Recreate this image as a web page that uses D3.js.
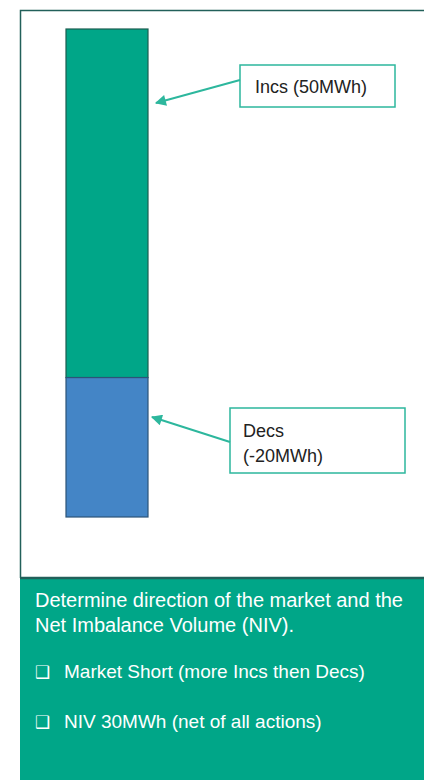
<!DOCTYPE html>
<html>
<head>
<meta charset="utf-8">
<script src="https://cdn.jsdelivr.net/npm/d3@7"></script>
<style>
  html, body { margin: 0; padding: 0; background: #fff; }
  svg { display: block; }
</style>
</head>
<body>
<svg id="chart"></svg>
<script>
// stacked bar segments
const segments = ['Incs', 'Decs'];
const values = [50, -20];
const labels = [['Incs (50MWh)'], ['Decs', '(-20MWh)']];
const notes = [
    'Determine direction of the market and the',
    'Net Imbalance Volume (NIV).'
];
const bullets = ['Market Short (more Incs then Decs)', 'NIV 30MWh (net of all actions)'];

const W = 424, H = 780;
const green = '#00a688', blue = '#4485c6', frame = '#22605a', arrowCol = '#2db79d';

function translate(x, y) {
    return `translate(${x},${y})`;
}

const svg = d3.select('#chart')
    .attr('width', W)
    .attr('height', H)
    .style('font-family', '"Liberation Sans", Arial, sans-serif');

const defs = svg.append('defs');
defs.append('marker')
    .attr('id', 'head')
    .attr('viewBox', '0 0 10 10')
    .attr('refX', 9)
    .attr('refY', 5)
    .attr('markerWidth', 7)
    .attr('markerHeight', 5.5)
    .attr('markerUnits', 'strokeWidth')
    .attr('orient', 'auto')
    .append('path')
    .attr('d', 'M0,0 L10,5 L0,10 z')
    .style('fill', arrowCol);

// outer frame
svg.append('path')
    .attr('d', `M${W + 2},10.5 H20.5 V578`)
    .style('fill', 'none')
    .style('stroke', frame)
    .style('stroke-width', 1.5);

// bar
let y = d3.scaleLinear()
    .domain([-20, 50])
    .range([517, 29]);
let x = d3.scaleBand()
    .domain(['NIV'])
    .range([66, 148]);

let stack = values.map((v, i) => ({ key: segments[i], y0: 0, y1: v }));

svg.append('g')
    .selectAll('rect')
    .data(stack)
    .enter()
    .append('rect')
    .attr('x', x('NIV'))
    .attr('width', x.bandwidth())
    .attr('y', d => y(Math.max(d.y0, d.y1)))
    .attr('height', d => Math.abs(y(d.y0) - y(d.y1)))
    .style('fill', (d, i) => [green, blue][i])
    .style('stroke', (d, i) => ['#1b5e50', '#2c5478'][i])
    .style('stroke-width', 1.2);

// callouts
let callouts = [
    { box: [240, 65, 155, 42], from: [240, 80], to: [156, 103], text: [255, 93] },
    { box: [230, 408, 175, 65], from: [230, 442], to: [152, 417], text: [243, 437] }
];

let cg = svg.append('g')
    .selectAll('g')
    .data(callouts)
    .enter()
    .append('g');

cg.append('rect')
    .attr('x', d => d.box[0])
    .attr('y', d => d.box[1])
    .attr('width', d => d.box[2])
    .attr('height', d => d.box[3])
    .style('fill', '#fff')
    .style('stroke', arrowCol)
    .style('stroke-width', 1.5);

cg.append('line')
    .attr('x1', d => d.from[0])
    .attr('y1', d => d.from[1])
    .attr('x2', d => d.to[0])
    .attr('y2', d => d.to[1])
    .style('stroke', arrowCol)
    .style('stroke-width', 2)
    .attr('marker-end', 'url(#head)');

cg.each(function(d, i) {
    d3.select(this).selectAll('text')
        .data(labels[i])
        .enter()
        .append('text')
        .attr('x', d.text[0])
        .attr('y', (t, j) => d.text[1] + j * 25)
        .style('font-size', '18px')
        .style('fill', '#222')
        .text(t => t);
});

// bottom note panel
let panel = svg.append('g').attr('transform', translate(20, 577));
panel.append('rect')
    .attr('width', W)
    .attr('height', H - 577)
    .style('fill', green);
panel.append('line')
    .attr('x1', 0)
    .attr('x2', W)
    .attr('y1', 1)
    .attr('y2', 1)
    .style('stroke', frame)
    .style('stroke-width', 2.5);

panel.selectAll('text.note')
    .data(notes)
    .enter()
    .append('text')
    .attr('class', 'note')
    .attr('x', 15)
    .attr('y', (d, i) => 30 + i * 25)
    .style('font-size', '20px')
    .style('fill', '#fff')
    .text(d => d);

let bg = panel.selectAll('g.bullet')
    .data(bullets)
    .enter()
    .append('g')
    .attr('class', 'bullet')
    .attr('transform', (d, i) => translate(15, 101 + i * 50));

bg.append('text')
    .attr('x', 0)
    .style('font-family', 'DejaVu Sans')
    .style('font-size', '17px')
    .style('font-weight', 'bold')
    .style('fill', '#fff')
    .text('\u2751');

bg.append('text')
    .attr('x', 29)
    .style('font-size', '19px')
    .style('fill', '#fff')
    .text(d => d);
</script>
</body>
</html>
